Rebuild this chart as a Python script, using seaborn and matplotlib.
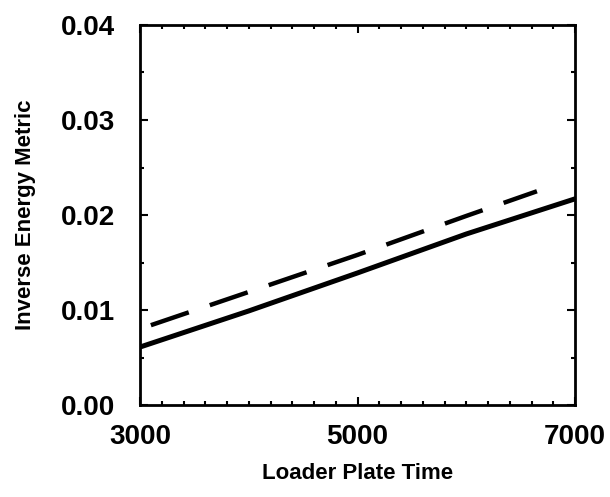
import numpy as np
import pandas as pd
import matplotlib
matplotlib.use("Agg")
import matplotlib.pyplot as plt
import seaborn as sns
from matplotlib.ticker import MultipleLocator, FormatStrFormatter

# Data
solid_x = [3000, 4000, 5000, 6000, 7000]
solid_y = [0.0061, 0.0099, 0.0139, 0.0180, 0.0217]
dashed_x = [3100, 4000, 5000, 6000, 6650]
dashed_y = [0.0084, 0.0119, 0.0158, 0.0199, 0.0225]

x_ticks = [3000, 5000, 7000]
y_ticks = [0.00, 0.01, 0.02, 0.03, 0.04]

sns.set_style("ticks")
plt.rcParams['font.family'] = ['Liberation Sans', 'DejaVu Sans']
plt.rcParams['text.color'] = 'black'
plt.rcParams['axes.labelcolor'] = 'black'
plt.rcParams['xtick.color'] = 'black'
plt.rcParams['ytick.color'] = 'black'

fig = plt.figure(figsize=(6.10, 4.97), dpi=100)
ax = fig.add_axes([140/610, 1 - 405/497, 435/610, 380/497])

df_s = pd.DataFrame({"x": solid_x, "y": solid_y})
df_d = pd.DataFrame({"x": dashed_x, "y": dashed_y})
sns.lineplot(data=df_s, x="x", y="y", ax=ax, color="black", lw=3.6)
sns.lineplot(data=df_d, x="x", y="y", ax=ax, color="black", lw=3.2)
ax.lines[-1].set_dashes([9, 5])
ax.lines[-1].set_dash_capstyle('butt')

ax.set_xlim(3000, 7000)
ax.set_ylim(0, 0.04)
ax.set_xticks(x_ticks)
ax.set_yticks(y_ticks)
ax.yaxis.set_major_formatter(FormatStrFormatter('%.2f'))
ax.xaxis.set_minor_locator(MultipleLocator(200))
ax.yaxis.set_minor_locator(MultipleLocator(0.005))
ax.tick_params(which='both', direction='in', top=True, right=True, width=1.5, color='black')
ax.tick_params(which='major', length=6, labelsize=20)
ax.tick_params(axis='y', which='major', pad=18)
ax.tick_params(axis='x', which='major', pad=14)
ax.tick_params(which='minor', length=3)
for lab in ax.get_xticklabels() + ax.get_yticklabels():
    lab.set_fontweight('bold')
for s in ax.spines.values():
    s.set_linewidth(2)
    s.set_color('black')

ax.set_xlabel("Loader Plate Time", fontsize=16, fontweight='bold', labelpad=9)
ax.set_ylabel("Inverse Energy Metric", fontsize=16, fontweight='bold', labelpad=18)

fig.savefig("out.png", dpi=100)
